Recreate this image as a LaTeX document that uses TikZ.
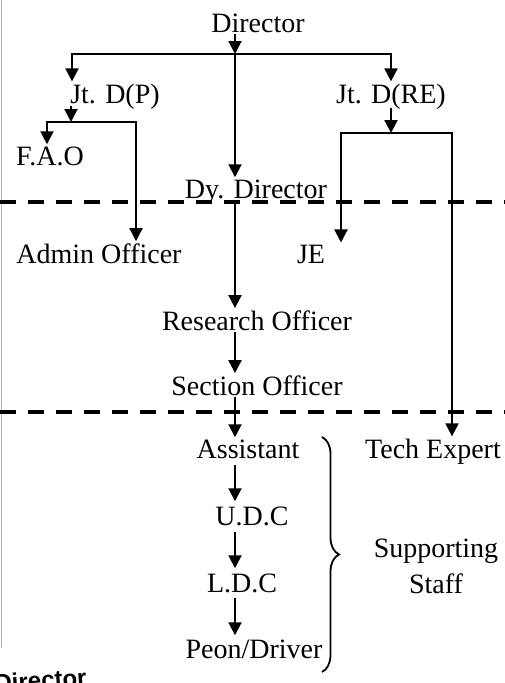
\documentclass[tikz,border=0pt]{standalone}
\usepackage{fontspec}
\setmainfont{Liberation Serif}
\newfontfamily\strayfont{Liberation Sans}
\usetikzlibrary{arrows.meta,decorations.pathreplacing}
\begin{document}
\begin{tikzpicture}[x=1pt,y=-1pt,
  lbl/.style={font=\fontsize{28}{36}\selectfont, inner sep=2pt, anchor=base},
  conn/.style={line width=2pt, line cap=rect},
  arr/.style={line width=2pt, -{Triangle[width=13pt,length=13pt]}},
  sepline/.style={line width=3.5pt, dash pattern=on 16pt off 12pt},
  bracestyle/.style={line width=1.8pt, decorate, decoration={brace, amplitude=17pt}}]
\useasboundingbox (0,0) rectangle (505,683);
\fill[white] (0,0) rectangle (505,683);
\draw[gray!60, line width=1.5pt] (1.5,0) -- (1.5,648);

% nodes
\node[lbl] (dir)   at (258,32)  {Director};
\node[lbl] (jtp)   at (115,103) {Jt. D(P)};
\node[lbl] (jtre)  at (391,103) {Jt. D(RE)};
\node[lbl] (fao)   at (50,165)  {F.A.O};
\node[lbl] (dy)    at (256,198) {Dy. Director};
\node[lbl] (admin) at (99,263)  {Admin Officer};
\node[lbl] (je)    at (311,263) {JE};
\node[lbl] (ro)    at (257,330) {Research Officer};
\node[lbl] (so)    at (257,395) {Section Officer};
\node[lbl] (asst)  at (248,458) {Assistant};
\node[lbl] (tech)  at (433,458) {Tech Expert};
\node[lbl] (udc)   at (252,525) {U.D.C};
\node[lbl] (ldc)   at (242,592) {L.D.C};
\node[lbl] (peon)  at (254,658) {Peon/Driver};
\node[lbl, anchor=center, align=center] (supp) at (436,566) {Supporting\\Staff};
\node[font=\strayfont\bfseries\fontsize{24}{24}\selectfont, anchor=base west, rotate=4, inner sep=0pt] (stray) at (-5,692) {Director};

% dashed separators
\draw[sepline] (0,202) -- (505,202);
\draw[sepline] (0,412) -- (505,412);

% junctions
\coordinate (j0)  at (235,54);
\coordinate (j0l) at (72,54);
\coordinate (j0r) at (391,54);
\coordinate (j1)  at (71,122);
\coordinate (j1l) at (47,122);
\coordinate (j1r) at (136,122);
\coordinate (j2)  at (391,133);
\coordinate (j2l) at (341,133);
\coordinate (j2r) at (452,133);

% connectors
\draw[arr] (dir.south -| j0) -- (j0);
\draw[conn] (j0l) -- (j0r);
\draw[arr] (j0l) -- (jtp.north -| j0l);
\draw[arr] (j0r) -- (jtre.north -| j0r);
\draw[arr] (j0) -- (dy.north -| j0);

\draw[arr] ([yshift=5pt]jtp.south -| j1) -- (j1);
\draw[conn] (j1l) -- (j1r);
\draw[arr] (j1l) -- (fao.north -| j1l);
\draw[arr] (j1r) -- (admin.north -| j1r);

\draw[arr] ([yshift=3pt]jtre.south -| j2) -- (j2);
\draw[conn] (j2l) -- (j2r);
\draw[arr] (j2l) -- (je.north -| j2l);
\draw[arr] (j2r) -- (tech.north -| j2r);

\draw[arr] ([yshift=3pt]dy.south -| j0) -- (ro.north -| j0);
\draw[arr] (ro.south -| j0) -- (so.north -| j0);
\draw[arr] (so.south -| j0) -- (asst.north -| j0);
\draw[arr] ([yshift=-5pt]asst.south -| j0) -- ([yshift=3pt]udc.north -| j0);
\draw[arr] ([yshift=-4pt]udc.south -| j0) -- ([yshift=3pt]ldc.north -| j0);
\draw[arr] ([yshift=-3pt]ldc.south -| j0) -- ([yshift=2pt]peon.north -| j0);

% brace
\coordinate (bt) at (322,437);
\coordinate (bb) at (322,672);
\draw[bracestyle] (bt) -- (bb);
\end{tikzpicture}
\end{document}
